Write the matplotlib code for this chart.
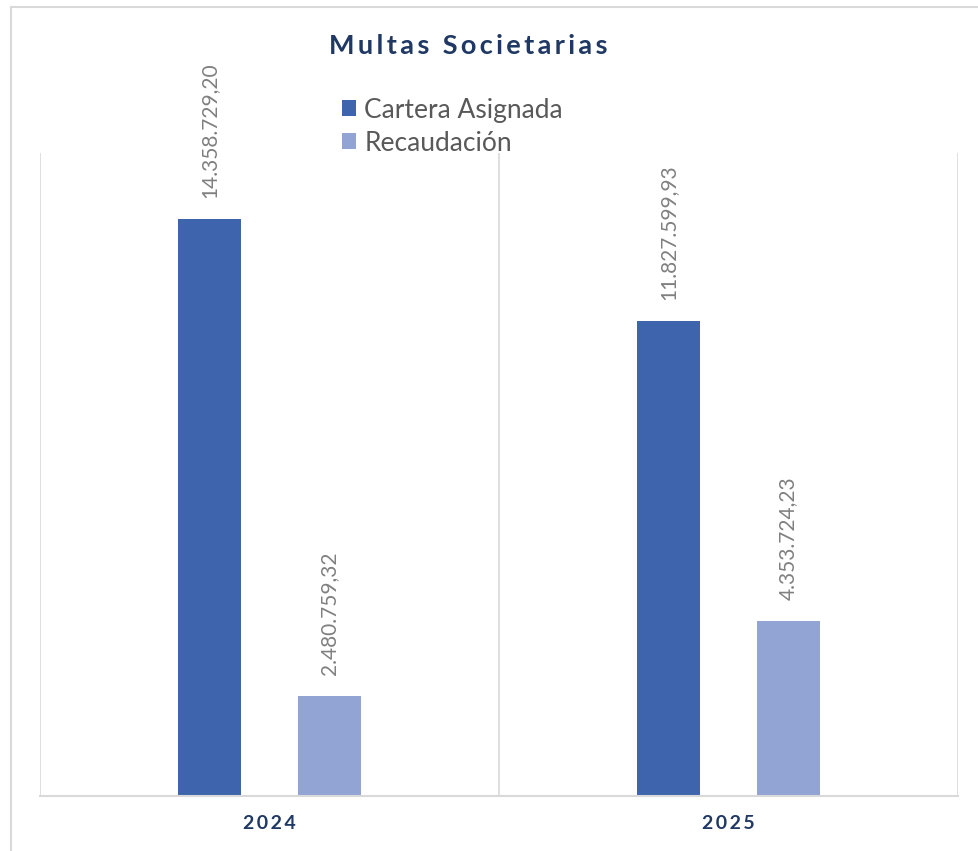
import numpy as np
import matplotlib.pyplot as plt
from matplotlib.patches import Rectangle

# Datos
anios = ['2024', '2025']
cartera = [14358729.20, 11827599.93]
recaudacion = [2480759.32, 4353724.23]
series = ['Cartera Asignada', 'Recaudación']

col_oscuro = '#3d64ad'
col_claro = '#91a4d4'
col_texto = '#1f3864'
col_gris = '#d9d9d9'

plt.rcParams['font.family'] = ['Lato', 'DejaVu Sans']

def formato(v):
    s = f"{v:,.2f}"
    return s.replace(',', 'X').replace('.', ',').replace('X', '.')

fig = plt.figure(figsize=(9.79, 8.51), dpi=100)
ax = fig.add_axes([40 / 979, 55 / 851, 918 / 979, 643 / 851])

x = np.arange(len(anios))
ancho = 0.137
b1 = ax.bar(x - 0.13, cartera, ancho, color=col_oscuro, label=series[0])
b2 = ax.bar(x + 0.13, recaudacion, ancho, color=col_claro, label=series[1])

for barras in (b1, b2):
    ax.bar_label(barras, labels=[formato(v) for v in barras.datavalues],
                 rotation=90, padding=15, color='#808080', fontsize=15)

ax.set_xlim(-0.5, 1.5)
ax.set_ylim(0, 16000000)
ax.set_yticks([])
ax.set_xticks(x)
ax.set_xticklabels(['\u2009'.join(a) for a in anios], fontweight='bold',
                   color=col_texto, fontsize=14)
ax.tick_params(axis='x', length=0, pad=14)

for s in ['top', 'left', 'right']:
    ax.spines[s].set_visible(False)
ax.spines['bottom'].set_color(col_gris)
ax.spines['bottom'].set_linewidth(1.5)

for xv in [-0.5, 0.5, 1.5]:
    ax.axvline(xv, color=col_gris, lw=1.2, zorder=0)

titulo = '\u2009'.join('Multas Societarias')
fig.text(468 / 979, 1 - 46 / 851, titulo, ha='center', va='center',
         fontsize=19.5, fontweight='bold', color=col_texto)

fig.legend(handles=[b1, b2], loc='upper left',
           bbox_to_anchor=(318 / 979, 1 - 74 / 851), frameon=False,
           fontsize=19, handlelength=0.55, handleheight=0.55,
           handletextpad=0.3, labelspacing=0.3, labelcolor='#595959')

fig.patches.append(Rectangle((11 / 979, -0.1), 1.2, 1 - 7 / 851 + 0.1,
                             transform=fig.transFigure, fill=False,
                             edgecolor=col_gris, lw=1.5))

fig.savefig('out.png', dpi=100)
